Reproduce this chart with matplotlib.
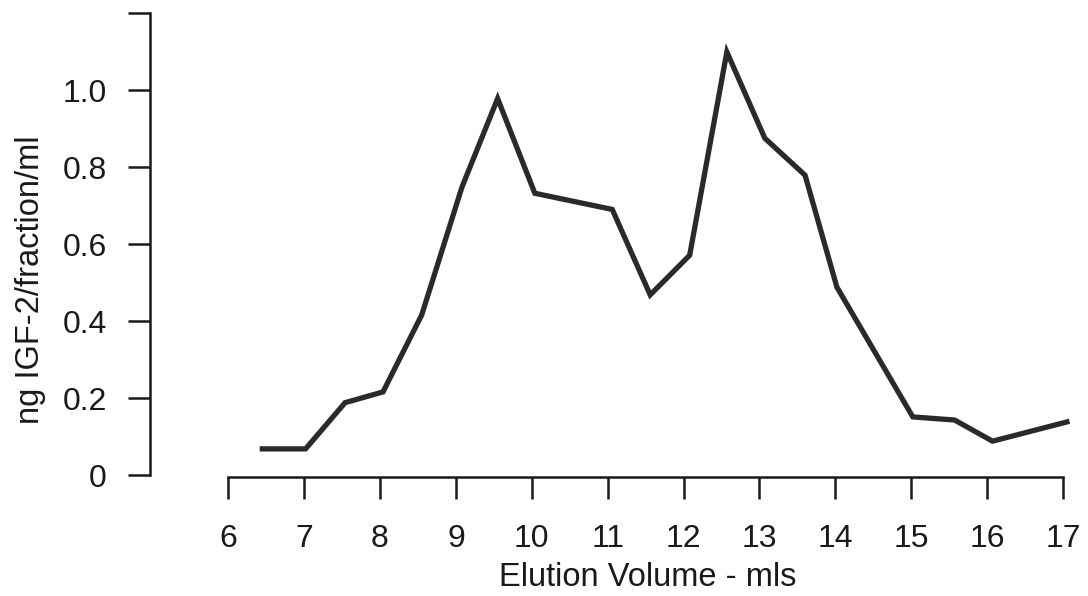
import matplotlib
matplotlib.use("Agg")
import matplotlib.pyplot as plt

# Data
elution_ml = [6.45, 7.02, 7.54, 8.04, 8.55, 9.08, 9.55, 10.04, 11.06, 11.56,
              12.08, 12.57, 13.07, 13.60, 14.02, 15.02, 15.57, 16.07, 17.05]
igf2_ng = [0.068, 0.068, 0.188, 0.216, 0.416, 0.748, 0.978, 0.732, 0.690, 0.468,
           0.571, 1.099, 0.875, 0.779, 0.488, 0.151, 0.143, 0.088, 0.138]
x_ticks = list(range(6, 18))
y_ticks = [0, 0.2, 0.4, 0.6, 0.8, 1.0, 1.2]
y_tick_labels = ["0", "0.2", "0.4", "0.6", "0.8", "1.0", ""]

plt.rcParams['font.family'] = ['Liberation Sans', 'DejaVu Sans']

fig = plt.figure(figsize=(10.88, 5.96), dpi=100)
ax = fig.add_axes([150/1088, 0.1997, (1070.7-150)/1088, 0.978-0.1997])

ax.plot(elution_ml, igf2_ng, color='#2a2a2a', lw=3.8, solid_joinstyle='miter', clip_on=False)

ax.set_xlim(4.97, 17.1)
ax.set_ylim(-0.005, 1.2)
ax.spines['top'].set_visible(False)
ax.spines['right'].set_visible(False)
ax.spines['bottom'].set_bounds(6, 17)
ax.spines['left'].set_bounds(0, 1.2)
for s in ('bottom', 'left'):
    ax.spines[s].set_linewidth(1.8)
    ax.spines[s].set_color('#1a1a1a')

ax.set_xticks(x_ticks)
ax.set_xticklabels([str(t) for t in x_ticks])
ax.set_yticks(y_ticks)
ax.set_yticklabels(y_tick_labels)
ax.tick_params(axis='both', direction='out', length=16, width=1.8, color='#1a1a1a',
               labelsize=23, labelcolor='#1a1a1a')
ax.tick_params(axis='y', pad=15)
ax.tick_params(axis='x', pad=18)

ax.set_xlabel("Elution Volume - mls", fontsize=23.5, color='#1a1a1a')
ax.set_ylabel("ng IGF-2/fraction/ml", fontsize=23.5, color='#1a1a1a')
ax.xaxis.set_label_coords(0.541, -0.183)
ax.yaxis.set_label_coords(-0.1125, 0.425)

fig.savefig("out.png", dpi=100)
